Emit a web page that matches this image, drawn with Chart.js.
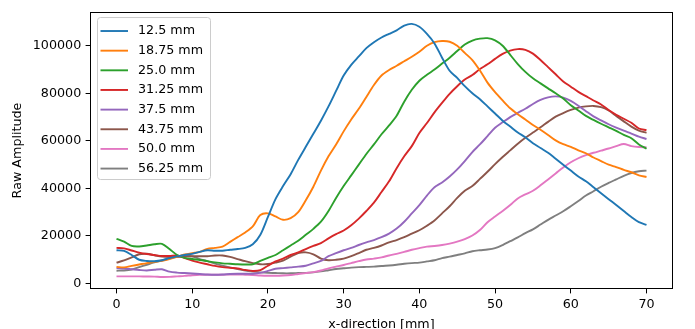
<!DOCTYPE html>
<html lang="en">
<head>
    <meta charset="UTF-8">
    <title>Raw Amplitude vs x-direction</title>
    <style>
        body { margin: 0; background: #fff; }
        #wrap { width: 695px; height: 329px; }
    </style>
</head>
<body>
    <div id="wrap"><canvas id="chart" width="695" height="329"></canvas></div>

    <script src="https://cdn.jsdelivr.net/npm/chart.js"></script>
    <script>
        // x positions in mm
        const xs = [0, 1, 2, 3, 4, 5, 6, 7, 8, 9, 10, 11, 12, 13, 14, 15, 16, 17, 18, 19, 20,
            21, 22, 23, 24, 25, 26, 27, 28, 29, 30, 31, 32, 33, 34, 35, 36, 37, 38, 39, 40,
            41, 42, 43, 44, 45, 46, 47, 48, 49, 50, 51, 52, 53, 54, 55, 56, 57, 58, 59, 60,
            61, 62, 63, 64, 65, 66, 67, 68, 69, 70];

        const labels = ['12.5 mm', '18.75 mm', '25.0 mm', '31.25 mm', '37.5 mm', '43.75 mm', '50.0 mm', '56.25 mm'];
        const colors = ['#1f77b4', '#ff7f0e', '#2ca02c', '#d62728', '#9467bd', '#8c564b', '#e377c2', '#7f7f7f'];

        const s125 = [14000, 13700, 12000, 10000, 9500, 9400, 9800, 10700, 11400, 12000, 12500,
            13300, 14000, 13800, 13800, 14200, 14500, 15000, 16500, 20500, 28000,
            35500, 41000, 46000, 52000, 57500, 63000, 68500, 74500, 81000, 87500,
            92000, 95500, 99000, 101500, 103500, 105000, 106500, 108500, 109200, 108000,
            105000, 101000, 95000, 89500, 86500, 83000, 80000, 77500, 74500, 71500,
            68500, 66000, 63500, 61500, 59000, 57000, 55000, 52500, 50000, 47500,
            45000, 43000, 40500, 38000, 35500, 33000, 30500, 28000, 25800, 24700];
        const s1875 = [7000, 6800, 7400, 8000, 8600, 9100, 9600, 10300, 11200, 12200, 12800,
            13300, 14600, 15000, 15500, 17500, 19500, 21500, 24000, 28800, 29500,
            28200, 26800, 27500, 30000, 35000, 40700, 47500, 53500, 58500, 64000,
            69000, 73500, 78500, 83500, 87500, 89800, 91600, 93500, 95400, 97500,
            100000, 101500, 102000, 101700, 100000, 97000, 94000, 89600, 84500, 80500,
            77000, 73700, 71200, 69000, 66700, 64700, 62500, 60200, 58600, 57500,
            56000, 54800, 53000, 51500, 50000, 49000, 47800, 46800, 45500, 44800];
        const s250 = [18800, 17600, 15800, 15600, 16000, 16500, 16700, 14500, 12000, 10800, 10300,
            9900, 9400, 8900, 8500, 8300, 8100, 8000, 8100, 9500, 10800,
            12000, 14000, 16000, 18000, 20500, 23000, 26000, 30500, 36000, 41000,
            45500, 50000, 54500, 58500, 62800, 66500, 70600, 76500, 81500, 85300,
            87800, 90000, 92500, 95000, 97800, 100500, 102200, 103000, 103200, 102300,
            100000, 96200, 92300, 89000, 86300, 84200, 82100, 80000, 77800, 75000,
            72800, 70500, 68800, 67200, 65700, 64200, 62500, 61100, 58500, 56700];
        const s3125 = [15000, 14800, 13900, 13000, 12400, 12000, 11600, 11600, 11800, 10700, 9600,
            8800, 8100, 7400, 6900, 6600, 6300, 5700, 5300, 5600, 7500,
            9300, 10500, 12000, 13100, 14500, 15800, 17000, 19000, 20800, 22300,
            24500, 27300, 30500, 34000, 38500, 43000, 48500, 53500, 57800, 63300,
            67500, 72000, 76000, 79800, 83000, 85800, 87700, 90200, 92200, 94500,
            96600, 98000, 98600, 98300, 96700, 94000, 91000, 88000, 85000, 82800,
            80600, 78800, 77000, 75300, 73000, 71000, 69300, 67600, 65200, 64500];
        const s375 = [6500, 6300, 6000, 5700, 5500, 5800, 6000, 5000, 4600, 4400, 4200,
            4000, 3800, 3700, 3800, 4000, 4100, 4100, 4100, 4500, 5300,
            6200, 6500, 6800, 7100, 7500, 8500, 9500, 11500, 12800, 14000,
            15000, 16200, 17300, 18300, 19500, 21000, 23100, 26000, 29500, 33000,
            37000, 40500, 42500, 45000, 48000, 51500, 55300, 58500, 62000, 65500,
            67800, 70000, 71800, 73500, 75500, 77200, 78300, 78700, 78200, 76800,
            74800, 72500, 70300, 68600, 67000, 65600, 64300, 63100, 61800, 60800];
        const s4375 = [8800, 9700, 11000, 12300, 12500, 11900, 11300, 11100, 11200, 11400, 11500,
            11500, 11500, 11800, 11800, 11200, 10300, 9400, 8600, 8100, 8200,
            8800, 9600, 11300, 12800, 13100, 12300, 10500, 9800, 10000, 10500,
            11500, 12800, 14200, 15000, 16000, 17300, 18300, 19500, 21000, 22400,
            24300, 26500, 29500, 32500, 36000, 39000, 41000, 44000, 47000, 50200,
            53200, 56000, 58800, 61300, 63500, 65700, 68000, 70200, 71700, 73000,
            74000, 74500, 74700, 74200, 72800, 70500, 68200, 66000, 64300, 63400];
        const s500 = [3000, 3000, 3000, 3000, 2950, 2900, 2750, 2800, 3000, 3200, 3500,
            3700, 3700, 3700, 3700, 3800, 3800, 3700, 3600, 3400, 3300,
            3300, 3400, 3600, 4000, 4400, 4800, 5500, 6400, 7100, 7800,
            8600, 9400, 10100, 10500, 11000, 11800, 12500, 13300, 14200, 14900,
            15500, 15800, 16200, 16800, 17600, 18700, 20200, 22500, 25800, 28200,
            30500, 33000, 35800, 37500, 39000, 41300, 43800, 46300, 48800, 51000,
            52700, 54000, 55000, 55900, 56800, 57800, 58700, 57800, 57400, 57300];
        const s5625 = [5400, 5500, 5900, 6900, 7900, 8900, 9700, 10500, 11300, 11800, 11400,
            10300, 9400, 8400, 7500, 6800, 6100, 5500, 5000, 4700, 4500,
            4400, 4300, 4300, 4400, 4500, 4700, 5100, 5600, 6100, 6400,
            6700, 6900, 7000, 7100, 7400, 7600, 7900, 8300, 8600, 8800,
            9300, 9800, 10700, 11300, 12000, 12700, 13600, 14000, 14300, 14900,
            16200, 17800, 19400, 21200, 22800, 24800, 26800, 28600, 30400, 32500,
            34700, 37000, 38800, 40700, 42300, 43800, 45300, 46500, 47200, 47500];

        const series = [s125, s1875, s250, s3125, s375, s4375, s500, s5625];

        const xTicks = [0, 10, 20, 30, 40, 50, 60, 70];
        const yTicks = [0, 20000, 40000, 60000, 80000, 100000];

        Chart.defaults.font.family = "'DejaVu Sans', sans-serif";
        Chart.defaults.font.size = 12.7;
        Chart.defaults.color = '#000';

        // frame round the plot area, like matplotlib spines
        const framePlugin = {
            id: 'frame',
            afterDatasetsDraw(chart) {
                const { ctx, chartArea: a } = chart;
                ctx.save();
                ctx.strokeStyle = '#000';
                ctx.lineWidth = 1;
                ctx.strokeRect(Math.round(a.left) + 0.5, Math.round(a.top) + 0.5,
                    Math.round(a.right - a.left) - 1, Math.round(a.bottom - a.top) - 1);
                ctx.restore();
            }
        };

        // legend box in the upper left corner of the plot
        const legendPlugin = {
            id: 'boxLegend',
            afterDraw(chart) {
                const ctx = chart.ctx;
                const a = chart.chartArea;
                const x0 = a.left + 7, y0 = a.top + 5, w = 113, h = 162, r = 3;
                ctx.save();
                ctx.beginPath();
                ctx.roundRect(x0 + 0.5, y0 + 0.5, w, h, r);
                ctx.fillStyle = 'rgba(255,255,255,0.8)';
                ctx.fill();
                ctx.strokeStyle = '#cccccc';
                ctx.lineWidth = 1;
                ctx.stroke();
                ctx.font = "12.7px 'DejaVu Sans', sans-serif";
                ctx.textBaseline = 'middle';
                ctx.fillStyle = '#000';
                chart.data.datasets.forEach((ds, i) => {
                    const y = y0 + 14 + i * 19.65;
                    ctx.beginPath();
                    ctx.moveTo(x0 + 3.5, y);
                    ctx.lineTo(x0 + 31, y);
                    ctx.strokeStyle = ds.borderColor;
                    ctx.lineWidth = 1.9;
                    ctx.stroke();
                    ctx.fillText(ds.label, x0 + 41, y);
                });
                ctx.restore();
            }
        };

        const datasets = series.map((vals, i) => ({
            label: labels[i],
            data: vals.map((v, j) => ({ x: xs[j], y: v })),
            borderColor: colors[i],
            backgroundColor: colors[i],
            borderWidth: 1.9,
            pointRadius: 0,
            tension: 0.3,
            fill: false
        }));

        new Chart(document.getElementById('chart'), {
            type: 'line',
            data: { datasets },
            options: {
                responsive: false,
                animation: false,
                layout: { padding: { left: 0, right: 22, top: 3, bottom: 0 } },
                plugins: { legend: { display: false }, tooltip: { enabled: false } },
                scales: {
                    x: {
                        type: 'linear',
                        min: -3.5,
                        max: 73.5,
                        afterBuildTicks: (s) => { s.ticks = xTicks.map(v => ({ value: v })); },
                        afterFit: (s) => { s.height = 40; },
                        ticks: { padding: 4, maxRotation: 0, callback: (v) => String(v) },
                        grid: { display: true, drawOnChartArea: false, drawTicks: true, tickLength: 4.4, color: '#000' },
                        border: { display: false },
                        title: { display: true, text: 'x-direction [mm]', padding: { top: 0, bottom: -3 } }
                    },
                    y: {
                        min: -2300,
                        max: 114200,
                        afterBuildTicks: (s) => { s.ticks = yTicks.map(v => ({ value: v })); },
                        afterFit: (s) => { s.width = 90; },
                        ticks: { padding: 4.4, callback: (v) => String(v) },
                        grid: { display: true, drawOnChartArea: false, drawTicks: true, tickLength: 4.4, color: '#000' },
                        border: { display: false },
                        title: { display: true, text: 'Raw Amplitude', padding: { top: 10, bottom: 0 } }
                    }
                }
            },
            plugins: [framePlugin, legendPlugin]
        });
    </script>
</body>
</html>
